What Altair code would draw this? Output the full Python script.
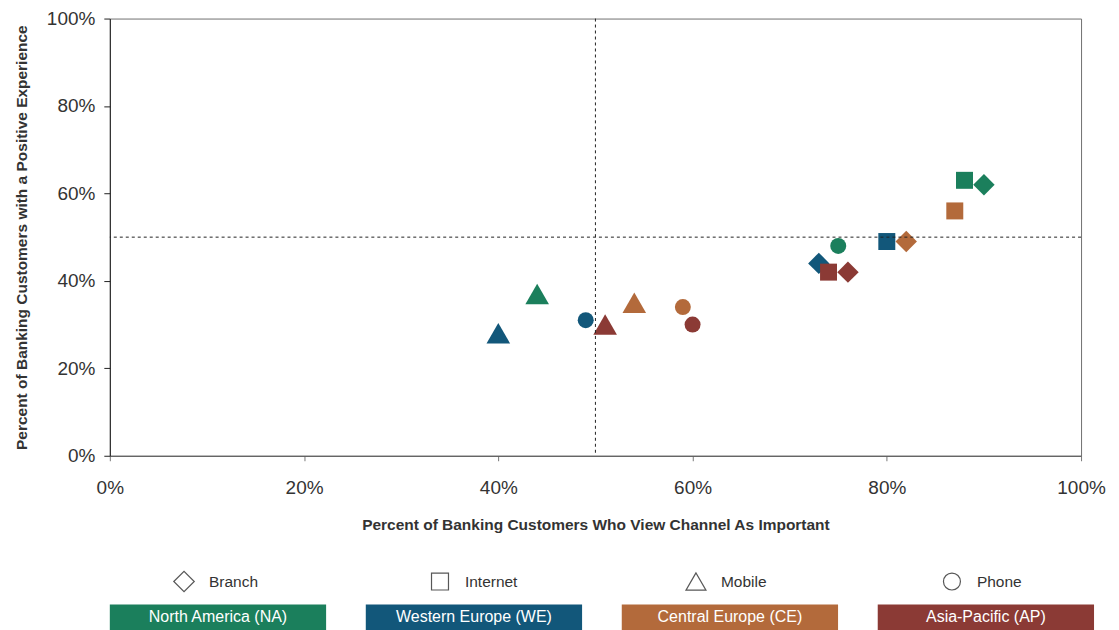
import altair as alt
import pandas as pd

regions = ["North America (NA)", "Western Europe (WE)", "Central Europe (CE)", "Asia-Pacific (AP)"]
region_colors = ["#1b7f5c", "#12577a", "#b36a3b", "#8b3a35"]
channels = ["Branch", "Internet", "Mobile", "Phone"]
channel_shapes = ["diamond", "square", "triangle-up", "circle"]
channel_sizes = [460, 289, 560, 256]

# importance (x) and positive experience (y); order: Branch, Internet, Mobile, Phone
na_x = [90, 88, 44, 75]
na_y = [62, 63, 37, 48]
we_x = [73, 80, 40, 49]
we_y = [44, 49, 28, 31]
ce_x = [82, 87, 54, 59]
ce_y = [49, 56, 35, 34]
ap_x = [76, 74, 51, 60]
ap_y = [42, 42, 30, 30]

x_ticks = [0, 20, 40, 60, 80, 100]
ref_x = [50]
ref_y = [50]

FONT = "Liberation Sans"

rows = []
for reg, xs, ys in zip(regions, [na_x, we_x, ce_x, ap_x], [na_y, we_y, ce_y, ap_y]):
    for ch, xv, yv in zip(channels, xs, ys):
        rows.append({"region": reg, "channel": ch, "importance": xv, "positive": yv})
df = pd.DataFrame(rows)

color_scale = alt.Scale(domain=regions, range=region_colors)
shape_scale = alt.Scale(domain=channels, range=channel_shapes)
size_scale = alt.Scale(type="ordinal", domain=channels, range=channel_sizes)

x_enc = alt.X("importance:Q", scale=alt.Scale(domain=[0, 100], nice=False),
              axis=alt.Axis(values=x_ticks, labelExpr="datum.value + '%'", grid=False,
                            title="Percent of Banking Customers Who View Channel As Important",
                            tickSize=5, tickColor="#777", domainColor="#555",
                            labelFlush=False,
                            labelPadding=18, titlePadding=20, labelFontSize=19,
                            labelColor="#333", titleFontSize=15.5, titleFontWeight="bold",
                            titleColor="#333", labelFont=FONT, titleFont=FONT))
y_enc = alt.Y("positive:Q", scale=alt.Scale(domain=[0, 100], nice=False),
              axis=alt.Axis(values=x_ticks, labelExpr="datum.value + '%'", grid=False,
                            title="Percent of Banking Customers with a Positive Experience",
                            tickSize=6, tickColor="#222", domainColor="#222",
                            labelFlush=False,
                            labelPadding=9, titlePadding=17, labelFontSize=19,
                            labelColor="#333", titleFontSize=15.5, titleFontWeight="bold",
                            titleColor="#333", labelFont=FONT, titleFont=FONT))

vline = alt.Chart(pd.DataFrame({"v": ref_x})).mark_rule(
    color="#222", strokeDash=[3, 3], strokeWidth=1).encode(x=alt.X("v:Q"))
hline = alt.Chart(pd.DataFrame({"v": ref_y})).mark_rule(
    color="#222", strokeDash=[3, 3], strokeWidth=1).encode(y=alt.Y("v:Q"))

points = alt.Chart(df).mark_point(filled=True, opacity=1, strokeWidth=0).encode(
    x=x_enc,
    y=y_enc,
    color=alt.Color("region:N", scale=color_scale, legend=None),
    shape=alt.Shape("channel:N", scale=shape_scale, legend=None),
    size=alt.Size("channel:N", scale=size_scale, legend=None),
)

main = alt.layer(points, vline, hline).properties(
    width=973, height=438,
    view=alt.ViewBackground(stroke="#707070", strokeWidth=1),
)

# custom legend
legend_cols = [0, 1, 2, 3]
shape_df = pd.DataFrame({"col": legend_cols, "row": ["shape"] * 4, "channel": channels})
box_df = pd.DataFrame({"col": legend_cols, "row": ["box"] * 4, "region": regions})

lx = alt.X("col:O", scale=alt.Scale(domain=legend_cols, paddingInner=0.155, paddingOuter=0), axis=None)
ly = alt.Y("row:O", scale=alt.Scale(domain=["shape", "box"], paddingInner=0.278, paddingOuter=0), axis=None)

boxes = alt.Chart(box_df).mark_rect().encode(
    x=lx, y=ly, color=alt.Color("region:N", scale=color_scale, legend=None))
box_text = alt.Chart(box_df).mark_text(color="white", fontSize=16, font=FONT).encode(
    x=lx, y=ly, text="region:N")
sym = alt.Chart(shape_df).mark_point(filled=False, color="#111", strokeWidth=1.2, xOffset=-34).encode(
    x=lx, y=ly,
    shape=alt.Shape("channel:N", scale=shape_scale, legend=None),
    size=alt.Size("channel:N", scale=alt.Scale(type="ordinal", domain=channels,
                                                range=[420, 289, 400, 289]), legend=None))
sym_text = alt.Chart(shape_df).mark_text(color="#333", fontSize=15.5, font=FONT, align="left", xOffset=-9).encode(
    x=lx, y=ly, text="channel:N")

legend = alt.layer(boxes, box_text, sym, sym_text).properties(
    width=986, height=62, view=alt.ViewBackground(strokeWidth=0)
).resolve_scale(color="independent", shape="independent", size="independent")

chart = alt.vconcat(main, legend, spacing=35).properties(
    padding={"left": 5, "top": 0, "right": 5, "bottom": 5}
).configure_view(strokeWidth=0).configure(font=FONT)

chart.save("out.html", embed_options={"renderer": "svg", "actions": False})
